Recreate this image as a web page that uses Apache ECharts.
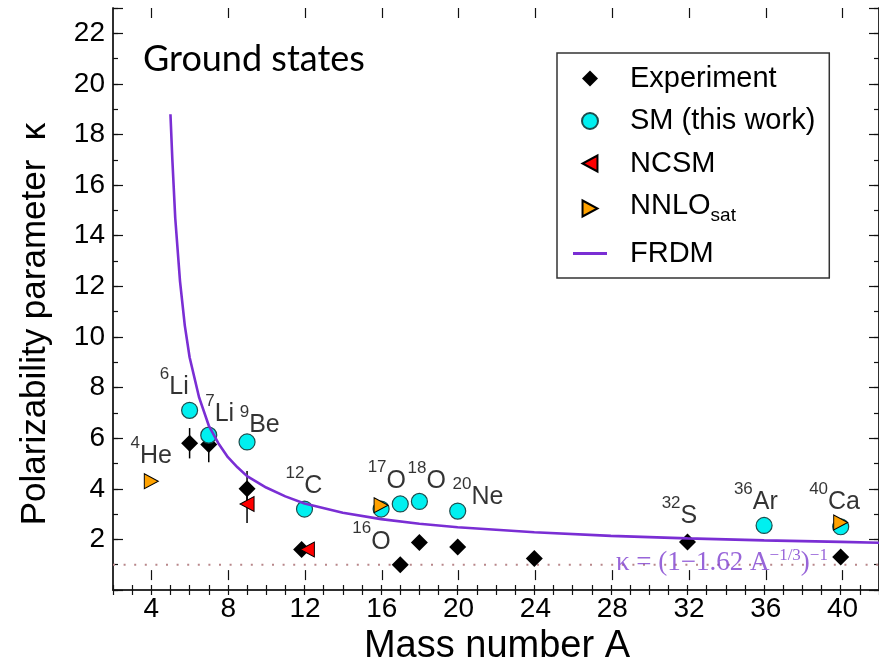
<!DOCTYPE html>
<html><head><meta charset="utf-8">
<script src="https://cdn.jsdelivr.net/npm/echarts@6/dist/echarts.min.js"></script>
<style>html,body{margin:0;padding:0;background:#fff}#c{width:879px;height:671px}</style>
</head><body><div id="c"></div>
<script>
// ---------------- data ----------------
const expA   = [6, 7, 9, 11.85, 17, 18, 20, 24, 32, 40];
const expK   = [5.8, 5.75, 4.0, 1.6, 1.0, 1.88, 1.7, 1.24, 1.9, 1.3];
const expErr = [0.6, 0.7, 0.7, 0, 0, 0, 0, 0, 0, 0];

const smA = [6, 7, 9, 12, 16, 17, 18, 20, 36, 40];
const smK = [7.1, 6.12, 5.85, 3.2, 3.2, 3.4, 3.5, 3.12, 2.55, 2.5];

const ncsmA   = [9, 12.15];
const ncsmK   = [3.4, 1.6];
const ncsmErr = [0.75, 0];

const nnloA = [4, 16, 40];
const nnloK = [4.3, 3.35, 2.67];

const frdmA = [5.0, 5.1, 5.25, 5.5, 5.75, 6, 6.5, 7, 7.5, 8, 8.5, 9, 10, 11, 12, 14, 16, 18, 20, 24, 28, 32, 36, 40, 42];
const frdmK = [18.8, 17.0, 14.7, 12.2, 10.45, 9.2, 7.6, 6.5, 5.8, 5.25, 4.85, 4.5, 4.05, 3.7, 3.42, 3.05, 2.8, 2.62, 2.48, 2.28, 2.14, 2.04, 1.96, 1.9, 1.87];

const refA = [2, 42];
const refK = [1, 1];

const nucSup = ['4', '6', '7', '9', '12', '16', '17', '18', '20', '32', '36', '40'];
const nucEl  = ['He', 'Li', 'Li', 'Be', 'C', 'O', 'O', 'O', 'Ne', 'S', 'Ar', 'Ca'];
const nucA   = [4.0, 5.2, 7.57, 9.66, 11.97, 15.5, 16.3, 18.38, 21.06, 31.58, 35.57, 39.68];
const nucK   = [5.47, 8.2, 7.11, 6.7, 4.29, 2.09, 4.5, 4.47, 3.83, 3.1, 3.66, 3.66];

const formulaA = [33.8];
const formulaK = [1.12];

const xRange = [2, 42], xMajorRange = [4, 40], yRange = [0, 23];
const xMajorStep = 4, xMinorStep = 1, yMajorStep = 2, yMinorStep = 1;

// ---------------- layout ----------------
const W = 879, H = 671;
const L = 113, T = 8, B = 81, R = -2;
const pxA = (W - L - R) / (xRange[1] - xRange[0]);
const L2 = L + (xMajorRange[0] - xRange[0]) * pxA;
const R2 = R + (xRange[1] - xMajorRange[1]) * pxA;

const SANS = "'Liberation Sans', Arial, Helvetica, sans-serif";
const SERIF = "'Liberation Serif', 'Times New Roman', serif";
const frame = {show: true, lineStyle: {color: '#222', width: 1.5}};
const tickStyle = {color: '#111', width: 1.2};

const pTriL = 'path://M14,0 L14,15 L0,7.5 Z';
const pTriR = 'path://M0,0 L14,7.5 L0,15 Z';
const pDia  = 'path://M8,0 L16,8 L8,16 L0,8 Z';
const pBar  = 'path://M0,0 L34,0 L34,3 L0,3 Z';

const zip = (a, b) => a.map((v, i) => [v, b[i]]);

const chart = echarts.init(document.getElementById('c'), null, {renderer: 'canvas'});
const option = {
  animation: false,
  backgroundColor: '#fff',
  title: {
    text: 'Ground states', left: 143, top: 41, padding: 0,
    textStyle: {fontFamily: "Lato, 'Open Sans', sans-serif", fontSize: 36, fontWeight: 'normal', color: '#000'}
  },
  grid: [
    {left: L, top: T, right: R, bottom: B},
    {left: L2, top: T, right: R2, bottom: B}
  ],
  legend: {
    left: 557, top: 53, orient: 'vertical',
    padding: [11, 14, 10, 16],
    borderColor: '#333', borderWidth: 1.5,
    itemWidth: 34, itemHeight: 16, itemGap: 13.5,
    selectedMode: false,
    data: [
      {name: 'Experiment', icon: pDia},
      {name: 'SM (this work)', icon: 'circle'},
      {name: 'NCSM', icon: pTriL},
      {name: 'NNLOsat', icon: pTriR},
      {name: 'FRDM', icon: pBar}
    ],
    formatter: n => n === 'NNLOsat' ? '{n|NNLO}{s|sat}{z| }' : n,
    textStyle: {
      fontFamily: SANS, fontSize: 29, color: '#000', lineHeight: 29, padding: [0, 0, 0, 18],
      rich: {
        n: {fontFamily: SANS, fontSize: 29, color: '#000', lineHeight: 24, verticalAlign: 'top'},
        s: {fontFamily: SANS, fontSize: 19, color: '#000', lineHeight: 19, verticalAlign: 'bottom'},
        z: {fontFamily: SANS, fontSize: 2, lineHeight: 34}
      }
    }
  },
  xAxis: [
    {gridIndex: 0, type: 'value', min: xRange[0], max: xRange[1], interval: xMinorStep, position: 'bottom',
     axisLine: frame, axisTick: {inside: true, length: 5, lineStyle: tickStyle},
     axisLabel: {show: false}, splitLine: {show: false}},
    {gridIndex: 0, type: 'value', min: xRange[0], max: xRange[1], interval: xMinorStep, position: 'top',
     axisLine: frame, axisTick: {inside: true, length: 5, lineStyle: tickStyle},
     axisLabel: {show: false}, splitLine: {show: false}},
    {gridIndex: 1, type: 'value', min: xMajorRange[0], max: xMajorRange[1], interval: xMajorStep, position: 'bottom',
     axisLine: {show: false}, axisTick: {inside: true, length: 10, lineStyle: tickStyle},
     axisLabel: {fontFamily: SANS, fontSize: 28, color: '#000', margin: 15},
     splitLine: {show: false},
     name: 'Mass number A', nameLocation: 'middle', nameGap: 43,
     nameTextStyle: {fontFamily: SANS, fontSize: 38, color: '#000'}},
    {gridIndex: 1, type: 'value', min: xMajorRange[0], max: xMajorRange[1], interval: xMajorStep, position: 'top',
     axisLine: {show: false}, axisTick: {inside: true, length: 10, lineStyle: tickStyle},
     axisLabel: {show: false}, splitLine: {show: false}}
  ],
  yAxis: [
    {gridIndex: 0, type: 'value', min: yRange[0], max: yRange[1], interval: yMajorStep, position: 'left',
     axisLine: frame, axisTick: {inside: true, length: 10, lineStyle: tickStyle},
     axisLabel: {fontFamily: SANS, fontSize: 28, color: '#000', margin: 8,
                 formatter: v => (v > 0 && v % 2 === 0) ? String(v) : ''},
     splitLine: {show: false},
     name: 'Polarizability parameter  \u03BA', nameLocation: 'middle', nameGap: 60, nameRotate: 90,
     nameTextStyle: {fontFamily: SANS, fontSize: 35, color: '#000', padding: [0, 50, 0, 0]}},
    {gridIndex: 0, type: 'value', min: yRange[0], max: yRange[1], interval: yMinorStep, position: 'left',
     axisLine: frame, axisTick: {inside: true, length: 5, lineStyle: tickStyle},
     axisLabel: {show: false}, splitLine: {show: false}},
    {gridIndex: 0, type: 'value', min: yRange[0], max: yRange[1], interval: yMajorStep, position: 'right',
     axisLine: frame, axisTick: {inside: true, length: 10, lineStyle: tickStyle},
     axisLabel: {show: false}, splitLine: {show: false}},
    {gridIndex: 0, type: 'value', min: yRange[0], max: yRange[1], interval: yMinorStep, position: 'right',
     axisLine: frame, axisTick: {inside: true, length: 5, lineStyle: tickStyle},
     axisLabel: {show: false}, splitLine: {show: false}},
    {gridIndex: 1, type: 'value', min: yRange[0], max: yRange[1], show: false}
  ],
  series: [
    {
      name: 'kappa=1', type: 'line', xAxisIndex: 0, yAxisIndex: 0, data: zip(refA, refK),
      symbol: 'none', silent: true, z: 1,
      lineStyle: {color: '#b8878a', width: 2, type: [2, 8.6]}
    },
    {
      name: 'errors', type: 'custom', xAxisIndex: 0, yAxisIndex: 0, silent: true, z: 2,
      data: expA.map((a, i) => [a, expK[i] - expErr[i], expK[i] + expErr[i]])
            .concat(ncsmA.map((a, i) => [a, ncsmK[i] - ncsmErr[i], ncsmK[i] + ncsmErr[i]]))
            .filter(d => d[2] > d[1]),
      renderItem: (params, api) => {
        const p1 = api.coord([api.value(0), api.value(1)]);
        const p2 = api.coord([api.value(0), api.value(2)]);
        return {type: 'line', shape: {x1: p1[0], y1: p1[1], x2: p2[0], y2: p2[1]},
                style: {stroke: '#000', lineWidth: 1.5}};
      }
    },
    {
      name: 'Experiment', type: 'scatter', xAxisIndex: 0, yAxisIndex: 0, data: zip(expA, expK),
      symbol: pDia, symbolSize: [17, 17], z: 3,
      itemStyle: {color: '#000', opacity: 1}
    },
    {
      name: 'SM (this work)', type: 'scatter', xAxisIndex: 0, yAxisIndex: 0, data: zip(smA, smK),
      symbol: 'circle', symbolSize: 16, z: 4,
      itemStyle: {color: '#00f0f0', borderColor: '#1d4d4d', borderWidth: 1.2, opacity: 1}
    },
    {
      name: 'NCSM', type: 'scatter', xAxisIndex: 0, yAxisIndex: 0, data: zip(ncsmA, ncsmK),
      symbol: pTriL, symbolSize: [14, 15], z: 5,
      itemStyle: {color: '#ff0000', borderColor: '#000', borderWidth: 1, opacity: 1}
    },
    {
      name: 'NNLOsat', type: 'scatter', xAxisIndex: 0, yAxisIndex: 0, data: zip(nnloA, nnloK),
      symbol: pTriR, symbolSize: [14, 15], z: 5,
      itemStyle: {color: '#ffa200', borderColor: '#000', borderWidth: 1, opacity: 1}
    },
    {
      name: 'FRDM', type: 'line', xAxisIndex: 0, yAxisIndex: 0, data: zip(frdmA, frdmK),
      symbol: 'none', smooth: false, z: 6,
      lineStyle: {color: '#7a2ed4', width: 2.6}, itemStyle: {color: '#7a2ed4'}
    },
    {
      name: 'labels', type: 'scatter', xAxisIndex: 0, yAxisIndex: 0, data: zip(nucA, nucK),
      symbolSize: 1, silent: true, z: 7, itemStyle: {color: 'rgba(0,0,0,0)'},
      label: {
        show: true, position: 'inside',
        formatter: p => '{s|' + nucSup[p.dataIndex] + '}{e|' + nucEl[p.dataIndex] + '}',
        rich: {
          s: {fontFamily: SANS, fontSize: 17, color: '#000', lineHeight: 18, verticalAlign: 'top'},
          e: {fontFamily: SANS, fontSize: 25, color: '#000', lineHeight: 34, verticalAlign: 'bottom'}
        }
      }
    },
    {
      name: 'formula', type: 'scatter', xAxisIndex: 0, yAxisIndex: 0, data: zip(formulaA, formulaK),
      symbolSize: 1, silent: true, z: 7, itemStyle: {color: 'rgba(0,0,0,0)'},
      label: {
        show: true, position: 'inside',
        formatter: () => '{m|\u03BA = (1\u22121.62 A}{s|\u22121/3}{m|)}{s|\u22121}',
        rich: {
          m: {fontFamily: SERIF, fontSize: 27, color: '#7e3fd0', lineHeight: 30, verticalAlign: 'bottom'},
          s: {fontFamily: SERIF, fontSize: 17, color: '#7e3fd0', lineHeight: 17, verticalAlign: 'top'}
        }
      }
    }
  ]
};
chart.setOption(option);
</script>
</body></html>
